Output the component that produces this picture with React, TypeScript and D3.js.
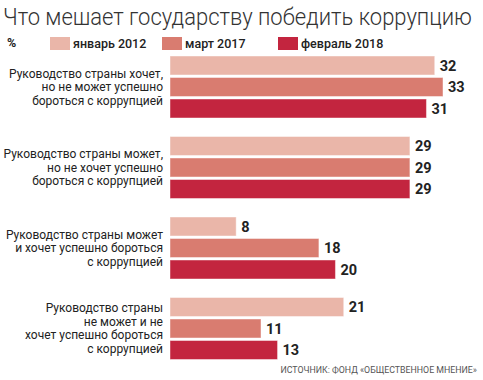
import React from "react";
import * as d3 from "d3";

const title = "Что мешает государству победить коррупцию";
const unitLabel = "%";
const seriesNames = ["январь 2012", "март 2017", "февраль 2018"];
const seriesColors = ["#EAB6A9", "#D97C70", "#C3253F"];
const categories = [
  ["Руководство страны хочет,", "но не может успешно", "бороться с коррупцией"],
  ["Руководство страны может,", "но не хочет успешно", "бороться с коррупцией"],
  ["Руководство страны может", "и хочет успешно бороться", "с коррупцией"],
  ["Руководство страны", "не может и не", "хочет успешно бороться", "с коррупцией"],
];
const jan2012 = [32, 29, 8, 21];
const mar2017 = [33, 29, 18, 11];
const feb2018 = [31, 29, 20, 13];
const source = "ИСТОЧНИК: ФОНД «ОБЩЕСТВЕННОЕ МНЕНИЕ»";

const W = 483;
const H = 380;

export default function App() {
  const series = [jan2012, mar2017, feb2018];
  const catIdx = categories.map((_, i) => i);
  const x = d3.scaleLinear().domain([0, 33]).range([170, 443]);
  const y0 = d3.scaleBand<number>().domain(catIdx).range([56, 56 + 4 * 80.5]).paddingInner(0).paddingOuter(0);
  const y1 = d3.scaleBand<number>().domain([0, 1, 2]).range([0, 62]).paddingInner(0.116).paddingOuter(0);
  const font = "Roboto, 'Open Sans', sans-serif";
  const lineH = 13.5;

  return (
    <svg width={W} height={H} style={{ position: "absolute", left: 0, top: 0, background: "#fff" }}>
      <text
        x={3}
        y={25}
        fontFamily={font}
        fontWeight={300}
        fontSize={24}
        fill="#333"
        textLength={469}
        lengthAdjust="spacingAndGlyphs"
      >
        {title}
      </text>
      <text x={7} y={47} fontFamily={font} fontWeight={700} fontSize={12.5} fill="#222">
        {unitLabel}
      </text>
      {seriesNames.map((s, i) => {
        const lx = [50, 162, 278][i];
        return (
          <g key={s}>
            <rect x={lx} y={37} width={20} height={13} fill={seriesColors[i]} />
            <text x={lx + 23} y={48} fontFamily={font} fontWeight={500} fontSize={12.5} fill="#222">
              {s}
            </text>
          </g>
        );
      })}
      {catIdx.map((ci) => {
        const gy = y0(ci)!;
        const center = gy + 31;
        const lines = categories[ci];
        const startY = center - ((lines.length - 1) * lineH) / 2;
        return (
          <g key={ci}>
            {lines.map((ln, li) => (
              <text
                key={li}
                x={163}
                y={startY + li * lineH}
                dy="0.35em"
                textAnchor="end"
                fontFamily={font}
                fontSize={12}
                fill="#222"
              >
                {ln}
              </text>
            ))}
            {series.map((vals, si) => {
              const by = gy + y1(si)!;
              const bh = y1.bandwidth();
              return (
                <g key={si}>
                  <rect
                    x={x(0)}
                    y={by}
                    width={x(vals[ci]) - x(0)}
                    height={bh}
                    fill={seriesColors[si]}
                    stroke="#fff"
                    strokeOpacity={0.45}
                    strokeWidth={1}
                  />
                  <text
                    x={x(vals[ci]) + 5}
                    y={by + bh / 2}
                    dy="0.36em"
                    fontFamily={font}
                    fontWeight={700}
                    fontSize={14.5}
                    fill="#222"
                  >
                    {vals[ci]}
                  </text>
                </g>
              );
            })}
          </g>
        );
      })}
      <text x={477} y={373} textAnchor="end" fontFamily={font} fontSize={8.8} fill="#555">
        {source}
      </text>
    </svg>
  );
}
